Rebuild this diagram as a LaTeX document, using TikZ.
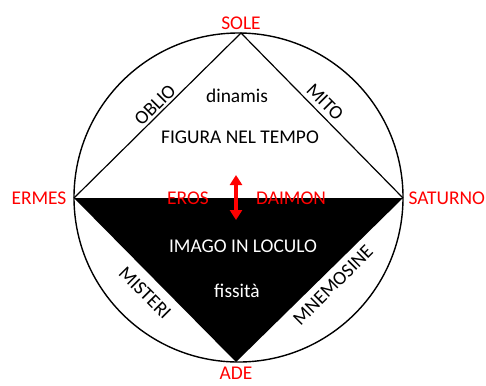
\documentclass[tikz,border=0pt]{standalone}
\usepackage{fontspec}
\setmainfont{Carlito}
\usetikzlibrary{positioning,arrows.meta}
\begin{document}
\begin{tikzpicture}[x=1bp, y=-1bp, line width=1.2bp,
  txt/.style={font=\fontsize{19.5}{22}\selectfont, inner sep=1bp},
  lab/.style={txt, text=red},
  wtxt/.style={txt, text=white}]
  \useasboundingbox (0,0) rectangle (486,385);
  % Vertici
  \coordinate (c) at (238.5,197.5);
  \coordinate (top) at (241,33);
  \coordinate (left) at (74,198);
  \coordinate (right) at (403,198);
  \coordinate (bottom) at (236,362);

  % Cerchio e triangoli
  \draw[line width=1.4bp] (c) circle (164.5bp);
  \fill[black] (left) -- (right) -- (bottom) -- cycle;
  \draw (left) -- (top) -- (right);

  % Nomi ai vertici
  \node[lab, above=2bp of top] (sole) {SOLE};
  \node[lab, left=6bp of left] (ermes) {ERMES};
  \node[lab, right=4bp of right] (saturno) {SATURNO};
  \node[lab, below=3bp of bottom] (ade) {ADE};

  % Testi interni
  \node[txt] (dinamis) at (237,96) {dinamis};
  \node[txt] (figura) at (240,137) {FIGURA NEL TEMPO};
  \node[lab] (eros) at (188,198) {EROS};
  \node[lab] (daimon) at (291,198) {DAIMON};
  \node[wtxt] (imago) at (243,246) {IMAGO IN LOCULO};
  \node[wtxt] (fissita) at (237,291) {fissità};

  % Lati
  \node[txt, rotate=45] (oblio) at (155,105) {OBLIO};
  \node[txt, rotate=-45] (mito) at (325,102) {MITO};
  \node[txt, rotate=-45] (misteri) at (145,293) {MISTERI};
  \node[txt, rotate=45] (mnemosine) at (333,285) {MNEMOSINE};

  % Freccia
  \coordinate (up) at (236,175);
  \coordinate (down) at (236,220);
  \draw[red, line width=3.2bp, {Triangle[length=10bp,width=12bp]}-{Triangle[length=10bp,width=12bp]}] (up) -- (down);
\end{tikzpicture}
\end{document}
